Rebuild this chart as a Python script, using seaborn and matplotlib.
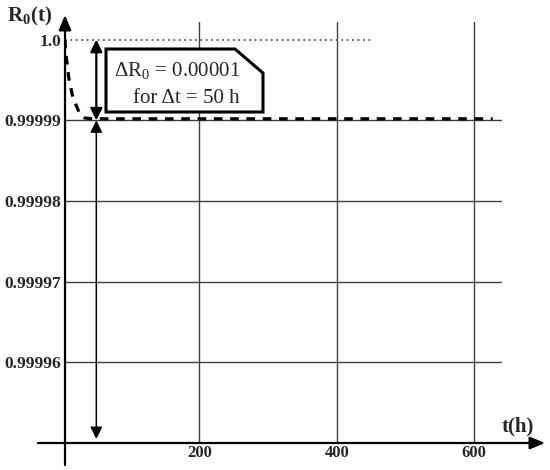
import matplotlib
matplotlib.use("Agg")
import matplotlib.pyplot as plt
from matplotlib.patches import Polygon
import seaborn as sns

# reliability curve
t_hours = [4.5, 5, 7, 10, 16, 22, 26, 33, 45, 100, 200, 300, 400, 500, 627]
r0_values = [1.0, 0.9999985, 0.9999974, 0.9999952, 0.9999928, 0.9999916,
             0.9999908, 0.9999903, 0.9999902, 0.9999902, 0.9999902,
             0.9999902, 0.9999902, 0.9999902, 0.9999902]

x_ticks = [200, 400, 600]
x_labels = ["200", "400", "600"]
y_ticks = [0.99996, 0.99997, 0.99998, 0.99999, 1.0]
y_labels = ["0.99996", "0.99997", "0.99998", "0.99999", "1.0"]

dt_mark = 50          # position of the delta-t arrows
ref_end = 448         # end of the dotted R0 = 1.0 line

sns.set_style("white")
plt.rcParams["font.family"] = ["Liberation Serif", "DejaVu Serif"]
plt.rcParams["mathtext.fontset"] = "custom"
plt.rcParams["mathtext.rm"] = "Liberation Serif"
plt.rcParams["mathtext.bf"] = "Liberation Serif:bold"

W, H = 550, 470
fig = plt.figure(figsize=(5.5, 4.7), dpi=100)
# axes box in pixels: left 65, right 502, top 22, bottom 443
ax = fig.add_axes([65 / W, (H - 443) / H, 437 / W, 421 / H])


def px(x, row):
    """pixel position -> axes fraction"""
    return ((x - 65) / 437, (443 - row) / 421)


ax.set_xlim(4.4, 640.5)
ax.set_ylim(0.99995, 1.0000022)
for s in ax.spines.values():
    s.set_visible(False)

ax.set_axisbelow(True)
ax.grid(True, color="#404040", lw=1.0)
ax.set_xticks(x_ticks, labels=x_labels)
ax.set_yticks(y_ticks, labels=y_labels)
ax.yaxis.get_major_ticks()[-1].gridline.set_visible(False)
ax.tick_params(length=0)
ax.tick_params(axis="x", pad=1.5, labelsize=12)
ax.tick_params(axis="y", pad=3, labelsize=12.5)
for lab in ax.get_xticklabels() + ax.get_yticklabels():
    lab.set_fontweight("bold")

# dotted reference at R0 = 1.0
ax.plot([4.4, ref_end], [1.0, 1.0], color="#555555", lw=1.3,
        linestyle=(0, (1, 2)), zorder=2)

sns.lineplot(x=t_hours, y=r0_values, ax=ax, color="black", lw=2.3,
             linestyle=(0, (2.7, 2.4)), zorder=4)

# axes drawn as arrows
axis_arrow = dict(arrowstyle="-|>,head_length=0.6,head_width=0.25",
                  color="black", lw=1.6, mutation_scale=15, shrinkA=0, shrinkB=0)
ax.annotate("", xy=px(545, 443), xytext=px(38, 443), xycoords="axes fraction",
            textcoords="axes fraction", arrowprops=axis_arrow, annotation_clip=False)
ax.annotate("", xy=px(65, 15), xytext=px(65, 465), xycoords="axes fraction",
            textcoords="axes fraction", arrowprops=axis_arrow, annotation_clip=False)

# delta arrows
dbl = dict(arrowstyle="<|-|>,head_length=0.6,head_width=0.3", color="black",
           lw=1.6, mutation_scale=12, shrinkA=0, shrinkB=0)
ax.annotate("", xy=(dt_mark, 1.0), xytext=(dt_mark, 0.99999), arrowprops=dbl, zorder=5)
dbl2 = dict(dbl, lw=1.1)
ax.annotate("", xy=(dt_mark, 0.99999), xytext=(dt_mark, 0.99995 + 0.05e-5),
            arrowprops=dbl2, zorder=5)

# annotation box with clipped corner
box = Polygon([px(106, 112), px(106, 49), px(235, 49), px(263, 73), px(263, 112)],
              closed=True, transform=ax.transAxes, facecolor="white",
              edgecolor="black", lw=2.2, zorder=6)
ax.add_patch(box)
ax.text(*px(114, 76), "ΔR$_0$ = 0.00001", transform=ax.transAxes,
        fontsize=15, ha="left", va="baseline", zorder=7)
ax.text(*px(133, 103), "for Δt = 50 h", transform=ax.transAxes,
        fontsize=15, ha="left", va="baseline", zorder=7)

# axis titles
fig.text(7 / W, (H - 21) / H, r"R$_\mathbf{0}$(t)", fontsize=15,
         fontweight="bold", ha="left", va="baseline")
fig.text(502 / W, (H - 431) / H, "t(h)", fontsize=15, fontweight="bold",
         ha="left", va="baseline")

fig.savefig("out.png", dpi=100)
